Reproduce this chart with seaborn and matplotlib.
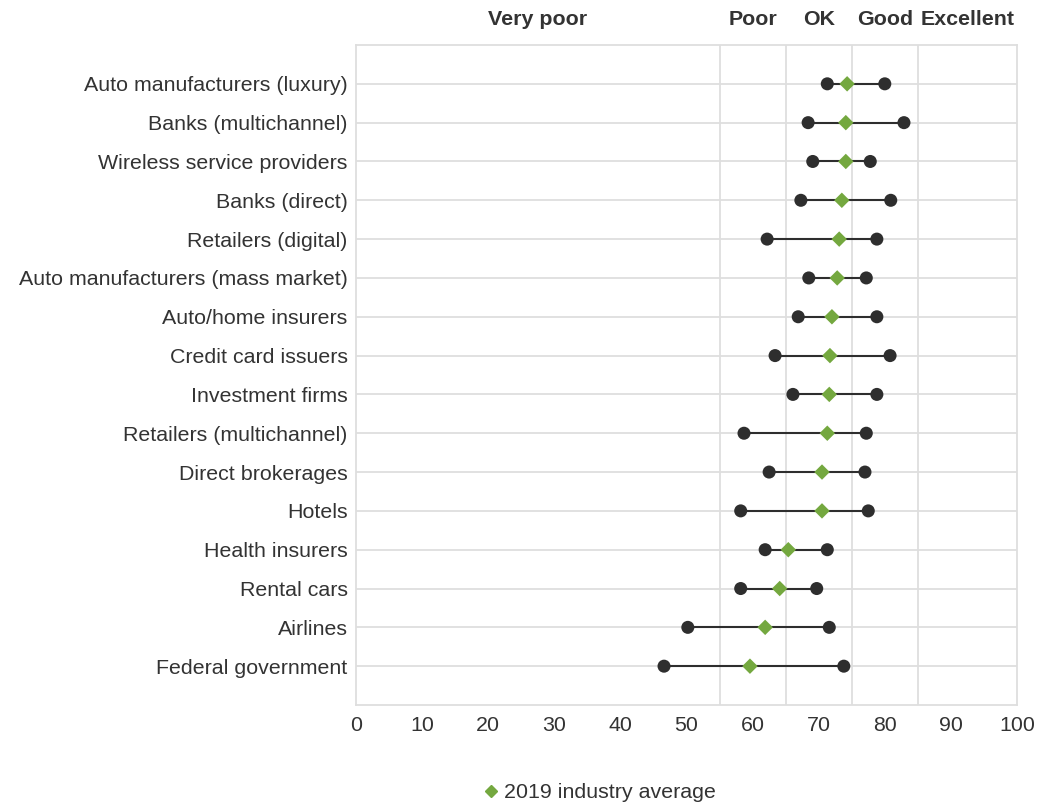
import matplotlib
matplotlib.use("Agg")
import matplotlib.pyplot as plt
import matplotlib.transforms as mtransforms
from matplotlib.lines import Line2D
import seaborn as sns
import pandas as pd

industries = [
    "Auto manufacturers (luxury)", "Banks (multichannel)", "Wireless service providers",
    "Banks (direct)", "Retailers (digital)", "Auto manufacturers (mass market)",
    "Auto/home insurers", "Credit card issuers", "Investment firms",
    "Retailers (multichannel)", "Direct brokerages", "Hotels", "Health insurers",
    "Rental cars", "Airlines", "Federal government",
]
low = [71.3, 68.4, 69.1, 67.3, 62.2, 68.5, 66.9, 63.4, 66.1, 58.7, 62.5, 58.2, 61.9, 58.2, 50.2, 46.6]
average = [74.3, 74.1, 74.1, 73.5, 73.1, 72.8, 72.0, 71.7, 71.6, 71.3, 70.5, 70.5, 65.4, 64.1, 61.9, 59.6]
high = [80.0, 82.9, 77.8, 80.9, 78.8, 77.2, 78.8, 80.8, 78.8, 77.2, 77.0, 77.5, 71.3, 69.7, 71.6, 73.8]

band_labels = ["Very poor", "Poor", "OK", "Good", "Excellent"]
band_edges = [0, 55, 65, 75, 85, 100]
x_ticks = [0, 10, 20, 30, 40, 50, 60, 70, 80, 90, 100]

sns.set_theme(style="white")
plt.rcParams["font.family"] = ["Liberation Sans", "DejaVu Sans"]

text_color = "#333333"
dot_color = "#2e2e2e"
green = "#74a83f"
grid_color = "#dedede"
fs = 15.4

df = pd.DataFrame({"industry": industries, "low": low, "average": average, "high": high})
df["pos"] = range(len(df))
ends = df.melt(id_vars=["industry", "pos"], value_vars=["low", "high"], value_name="score")

fig = plt.figure(figsize=(10.4, 8.08), dpi=100)
ax = fig.add_axes([356 / 1040, 1 - 705 / 808, 661 / 1040, 660 / 808])

# Horizontal row guides and band boundaries
for p in df["pos"]:
    ax.axhline(p, color=grid_color, lw=1.3, zorder=0)
for e in band_edges[1:-1]:
    ax.axvline(e, color=grid_color, lw=1.3, zorder=0)

# Range lines between low and high
ax.hlines(df["pos"], df["low"], df["high"], color=dot_color, lw=1.5, zorder=2)

sns.scatterplot(data=ends, x="score", y="pos", ax=ax, color=dot_color, s=88,
                edgecolor="none", zorder=3, legend=False)
sns.scatterplot(data=df, x="average", y="pos", ax=ax, color=green, marker="D", s=62,
                edgecolor="none", zorder=4, legend=False)

ax.set_xlim(0, 100)
ax.set_ylim(len(df), -1)
ax.set_xticks(x_ticks)
ax.set_xticklabels([str(t) for t in x_ticks], fontsize=fs, color=text_color)
ax.set_yticks(df["pos"])
ax.set_yticklabels(industries, fontsize=fs, color=text_color)
ax.tick_params(axis="both", length=0)
ax.tick_params(axis="y", pad=6)
ax.tick_params(axis="x", pad=8)
ax.set_xlabel("")
ax.set_ylabel("")
for s in ax.spines.values():
    s.set_color(grid_color)
    s.set_linewidth(1.3)

# Rating band names centred over each band
trans = mtransforms.blended_transform_factory(ax.transData, ax.transAxes)
for i, name in enumerate(band_labels):
    mid = (band_edges[i] + band_edges[i + 1]) / 2
    ax.text(mid, 1.038, name, transform=trans, ha="center", va="center",
            fontsize=fs, fontweight="bold", color=text_color)

handle = Line2D([], [], marker="D", color=green, linestyle="none", markersize=6.5)
fig.legend([handle], ["2019 industry average"], loc="center",
           bbox_to_anchor=(598 / 1040, 1 - 793 / 808), frameon=False,
           fontsize=fs, handletextpad=0.1, handlelength=1.0, labelcolor=text_color)

fig.savefig("out.png", dpi=100)
